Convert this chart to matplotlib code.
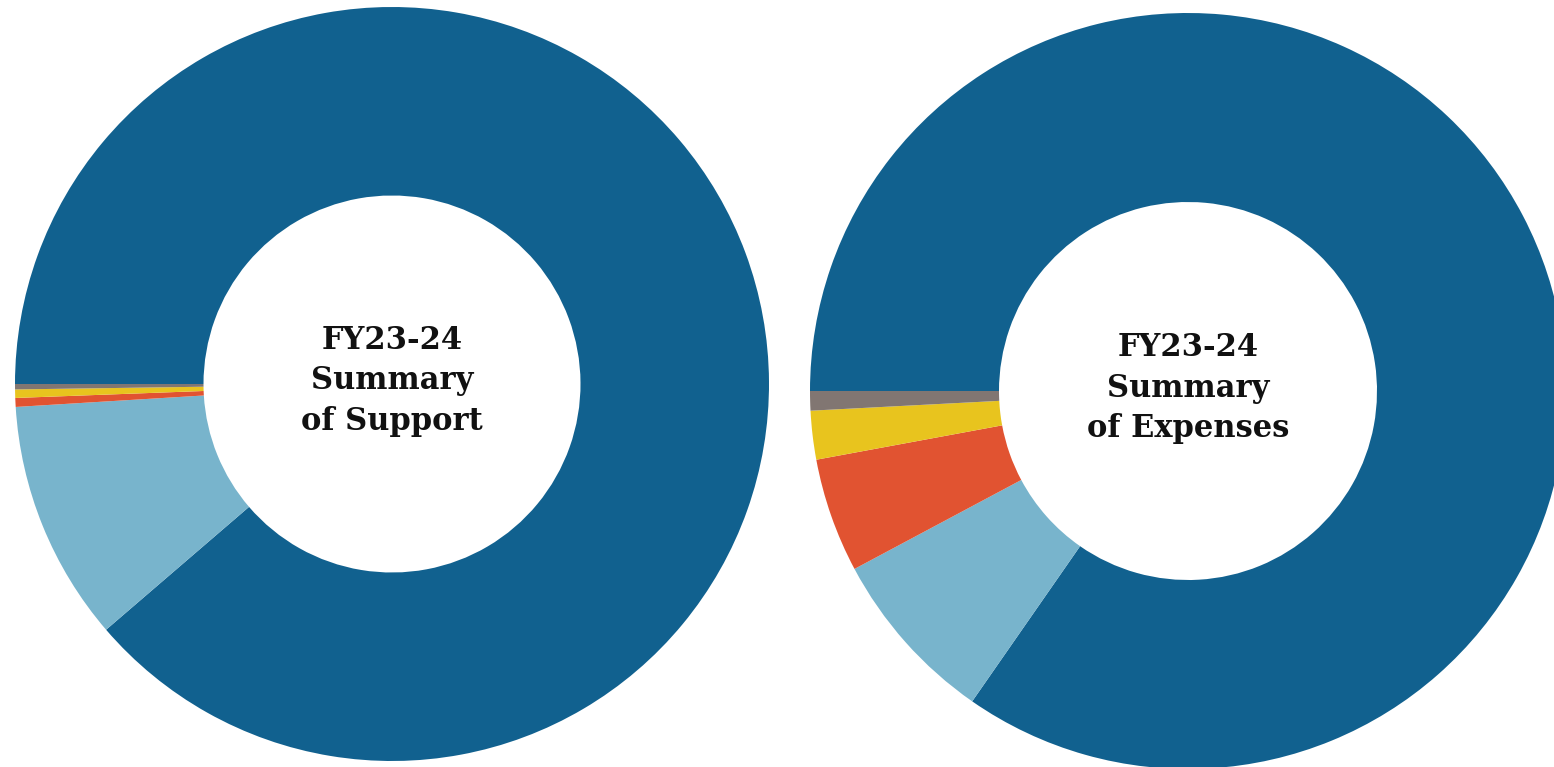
import matplotlib
matplotlib.use('Agg')
import matplotlib.pyplot as plt

# slice values in percent, largest first (drawn clockwise from 9 o'clock)
categories = ['Main', 'Second', 'Third', 'Fourth', 'Other']
support = [88.70, 10.33, 0.38, 0.36, 0.23]
expenses = [84.67, 7.53, 4.89, 2.08, 0.83]
colors = ['#11618f', '#78b4cc', '#e15331', '#e8c41e', '#817672']

W, H = 1554, 767
fig = plt.figure(figsize=(W / 100, H / 100), dpi=100)
ax = fig.add_axes([0, 0, 1, 1])

charts = [
    (support, (392, H - 384), 377, 'FY23-24\nSummary\nof Support'),
    (expenses, (1188, H - 391), 378, 'FY23-24\nSummary\nof Expenses'),
]

for vals, center, r, label in charts:
    ax.pie(vals, colors=colors, startangle=180, counterclock=False,
           center=center, radius=r, normalize=True,
           wedgeprops=dict(width=r * 0.5, linewidth=0))
    ax.text(center[0], center[1] + 3, label, ha='center', va='center',
            fontsize=22, fontweight='bold', family='DejaVu Serif',
            linespacing=1.4, color='#111111')

ax.set_xlim(0, W)
ax.set_ylim(0, H)
ax.set_aspect('equal')
ax.axis('off')

fig.savefig('out.png', dpi=100)
